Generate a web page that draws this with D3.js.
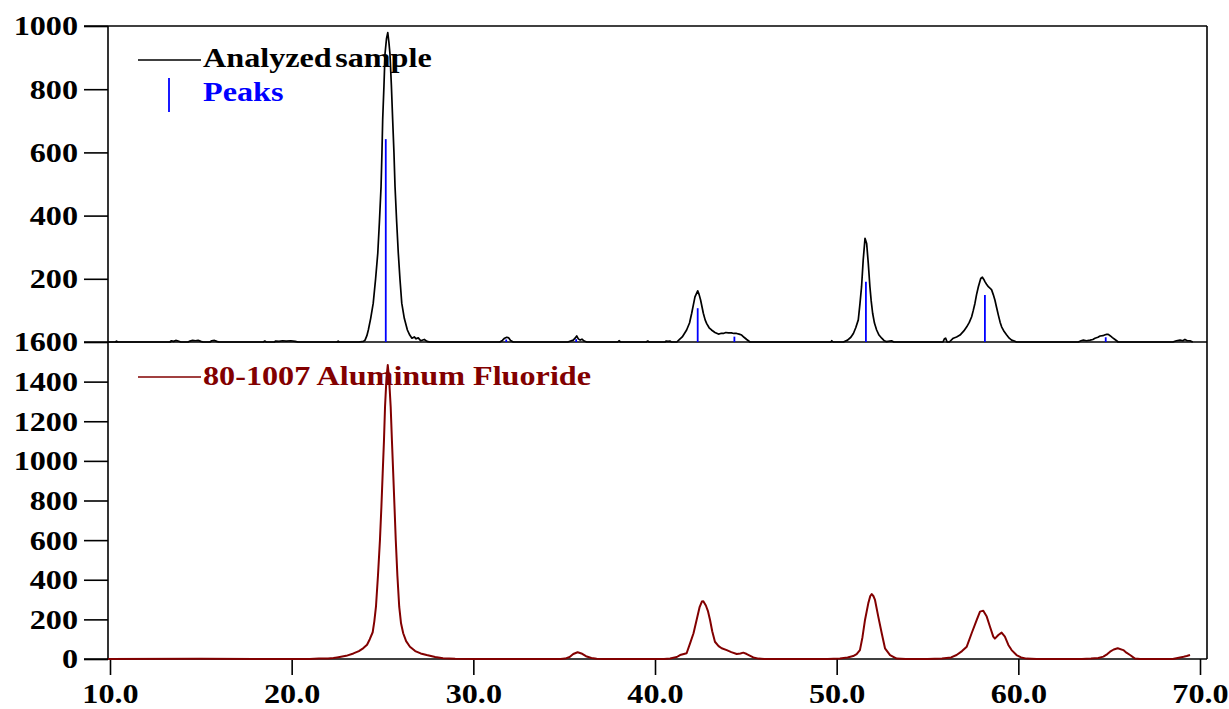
<!DOCTYPE html>
<html>
<head>
<meta charset="utf-8">
<script src="https://cdn.jsdelivr.net/npm/d3@7"></script>
<style>
  html, body { margin: 0; padding: 0; background: #fff; }
  svg { display: block; }
  text { font-family: "Liberation Serif", "Times New Roman", serif; font-weight: bold; font-size: 28px; }
</style>
</head>
<body>
<svg id="chart" width="1229" height="709"></svg>
<script>
// ---- Data -------------------------------------------------------------
// Measured diffraction scan: [2-theta (deg), counts]
const sampleScan = [
  [9.9,0],[10.3,0],[10.36,3],[10.42,0],[13.3,0],[13.38,4],[13.5,2],[13.62,5],[13.75,3],[13.9,0],
  [14.3,0],[14.4,3],[14.55,5],[14.7,4],[14.85,5],[15.0,2],[15.12,0],[15.5,0],[15.6,4],[15.75,5],
  [15.88,2],[16.0,0],[18.45,0],[18.52,3],[18.6,0],[19.05,0],[19.12,3],[19.3,2],[19.5,4],[19.7,3],
  [19.95,4],[20.2,2],[20.35,0],[22.5,0],[22.56,3],[22.62,0],[23.7,0],[23.95,2],
  [24.04,6],[24.14,20],[24.22,38],[24.35,75],[24.49,123],[24.62,200],[24.74,281],[24.83,380],
  [24.92,491],[24.97,600],[25.01,703],[25.08,810],[25.14,913],[25.22,960],[25.29,979],[25.35,950],
  [25.41,913],[25.49,810],[25.56,703],[25.63,600],[25.69,491],[25.78,380],[25.87,281],[25.96,200],
  [26.06,123],[26.2,75],[26.37,38],[26.5,22],[26.62,12],[26.75,16],[26.85,10],[26.97,13],[27.1,4],
  [27.3,8],[27.45,2],[27.6,0],
  [31.45,0],[31.6,5],[31.72,12],[31.84,15],[31.95,13],[32.05,5],[32.2,0],
  [35.2,0],[35.35,3],[35.5,6],[35.6,12],[35.69,19],[35.78,10],[35.88,6],[35.98,9],[36.1,3],[36.25,0],
  [37.95,0],[38.02,4],[38.1,0],[39.52,0],[39.6,3],[39.68,0],[40.55,0],[40.62,3],[40.72,2],[40.82,3],[40.9,0],
  [41.2,0],[41.35,8],[41.5,16],[41.74,38],[41.9,60],[42.02,91],[42.12,120],[42.2,143],[42.35,162],
  [42.43,150],[42.51,133],[42.66,91],[42.76,70],[42.84,59],[42.98,45],[43.11,38],[43.3,30],[43.49,25],
  [43.62,27],[43.76,27],[43.9,30],[44.03,29],[44.2,29],[44.35,27],[44.49,27],[44.63,25],[44.77,22],
  [44.9,15],[45.05,8],[45.23,0],
  [49.68,0],[49.73,4],[49.8,0],[50.37,0],[50.6,6],[50.78,15],[50.92,27],[51.05,45],[51.19,70],
  [51.28,120],[51.37,175],[51.46,259],[51.56,328],[51.65,312],[51.74,249],[51.83,175],[51.9,130],
  [51.98,91],[52.08,60],[52.2,38],[52.33,22],[52.48,12],[52.6,5],[52.75,1],[53.02,4],[53.15,0],
  [55.85,0],[55.93,10],[56.0,12],[56.08,0],[56.2,0],[56.42,12],[56.6,16],[56.79,22],[57.0,35],
  [57.16,48],[57.3,62],[57.43,80],[57.52,100],[57.61,122],[57.7,150],[57.8,175],[57.93,201],[58.02,205],
  [58.1,198],[58.16,191],[58.25,183],[58.35,175],[58.45,170],[58.53,165],[58.62,150],[58.71,133],
  [58.8,110],[58.9,85],[59.0,62],[59.08,48],[59.22,33],[59.36,22],[59.5,12],[59.63,6],[59.78,3],[59.9,0],
  [63.3,0],[63.45,4],[63.58,6],[63.75,4],[63.95,6],[64.1,8],[64.22,12],[64.38,15],[64.5,19],[64.65,20],
  [64.78,23],[64.86,24],[64.95,24],[65.05,20],[65.18,14],[65.32,8],[65.5,0],
  [68.5,0],[68.7,4],[68.9,6],[69.05,4],[69.17,8],[69.3,4],[69.45,4],[69.6,0]
];

// Identified peak positions: [2-theta (deg), counts]
const peakPositions = [
  [25.18,642],[31.81,8],[35.66,9],[42.35,107],[44.37,17],[51.61,191],[58.16,149],[64.81,15]
];

// Reference pattern 80-1007 Aluminum Fluoride: [2-theta (deg), counts]
const referencePattern = [
  [9.9,0],[15.0,1],[18.0,0],[21.0,0],[21.5,2],[22.0,3],[22.3,5],[22.5,8],[23.0,16],[23.4,28],[23.7,40],
  [23.95,55],[24.15,72],[24.3,100],[24.46,135],[24.55,190],[24.64,264],[24.75,420],[24.86,601],
  [24.94,770],[25.01,937],[25.08,1100],[25.14,1274],[25.22,1420],[25.29,1484],[25.36,1420],[25.45,1274],
  [25.52,1100],[25.59,937],[25.66,770],[25.73,601],[25.82,420],[25.92,264],[26.02,180],[26.14,130],
  [26.3,90],[26.51,62],[26.8,40],[27.1,28],[27.43,20],[27.9,10],[28.33,4],[29.0,1],[30.0,0],
  [34.8,0],[35.05,2],[35.3,10],[35.5,25],[35.74,34],[35.95,28],[36.2,14],[36.5,5],[36.79,1],[37.2,0],
  [40.5,0],[40.83,3],[41.2,10],[41.38,20],[41.74,29],[41.93,79],[42.12,130],[42.29,197],[42.45,260],
  [42.58,290],[42.66,292],[42.8,270],[42.92,240],[43.03,197],[43.15,140],[43.3,87],[43.5,65],
  [43.67,54],[43.95,45],[44.2,35],[44.5,25],[44.7,28],[44.86,32],[45.05,25],[45.41,8],[45.7,2],[46.0,0],
  [49.5,0],[50.18,2],[50.6,8],[50.91,15],[51.1,25],[51.28,45],[51.42,110],[51.56,197],[51.74,281],
  [51.85,318],[51.93,328],[52.02,318],[52.11,298],[52.29,214],[52.48,130],[52.66,54],[52.94,20],
  [53.3,2],[53.8,0],
  [55.0,0],[55.8,2],[56.3,8],[56.6,20],[56.9,40],[57.16,62],[57.43,130],[57.71,197],[57.89,239],
  [58.07,244],[58.26,214],[58.44,163],[58.62,113],[58.71,103],[58.9,121],[59.08,133],[59.26,113],
  [59.45,71],[59.63,45],[59.9,20],[60.15,8],[60.45,2],[61.0,0],
  [63.5,0],[64.0,2],[64.4,5],[64.68,12],[64.9,25],[65.05,37],[65.25,48],[65.47,54],[65.78,45],
  [65.95,32],[66.15,20],[66.42,2],[66.7,0],[68.5,0],[68.9,8],[69.1,11],[69.27,15],[69.45,20]
];

// Axis ticks and legend entries
const xTicks = [10, 20, 30, 40, 50, 60, 70];
const upperTicks = [200, 400, 600, 800, 1000];
const lowerTicks = [0, 200, 400, 600, 800, 1000, 1200, 1400, 1600];
const legendUpper = ["Analyzed sample", "Peaks"];
const legendLower = ["80-1007 Aluminum Fluoride"];

// ---- Layout -----------------------------------------------------------
const plotLeft = 108, plotRight = 1207;
const topY = 26, midY = 342, bottomY = 659;
const tickLen = 24;
const stretch = 1.15;           // horizontal stretch of the bold serif labels
const sampleColor = "#000000";
const peakColor = "#0000ff";
const refColor = "#820000";

const svg = d3.select("#chart");

const x = d3.scaleLinear().domain([9.89, 70.385]).range([plotLeft, plotRight]);
const yUpper = d3.scaleLinear().domain([0, 1000]).range([midY, topY]);
const yLower = d3.scaleLinear().domain([0, 1600]).range([bottomY, midY]);

// ---- Axes -------------------------------------------------------------
function styleLeftAxis(g) {
  g.select(".domain").remove();
  g.selectAll(".tick line").attr("stroke", "#000").attr("stroke-width", 1.6);
  g.selectAll(".tick text")
    .attr("fill", "#000")
    .attr("x", -(tickLen + 6) / stretch)
    .attr("transform", `scale(${stretch},1)`);
}

svg.append("g")
  .attr("transform", `translate(${plotLeft},0)`)
  .call(d3.axisLeft(yUpper).tickValues(upperTicks).tickSize(tickLen).tickFormat(d3.format("d")))
  .call(styleLeftAxis);

svg.append("g")
  .attr("transform", `translate(${plotLeft},0)`)
  .call(d3.axisLeft(yLower).tickValues(lowerTicks).tickSize(tickLen).tickFormat(d3.format("d")))
  .call(styleLeftAxis);

const xAxis = svg.append("g")
  .attr("transform", `translate(0,${bottomY})`)
  .call(d3.axisBottom(x).tickValues(xTicks).tickSize(16).tickFormat(d3.format(".1f")));
xAxis.select(".domain").remove();
xAxis.selectAll(".tick line").attr("stroke", "#000").attr("stroke-width", 1.6);
xAxis.selectAll(".tick text")
  .attr("fill", "#000")
  .attr("y", 44).attr("dy", 0)
  .attr("transform", `scale(${stretch},1)`);

// Frame: top border, panel separator, bottom axis, left and right borders
const frame = svg.append("g").attr("stroke", "#000").attr("stroke-width", 1.6).attr("fill", "none");
frame.append("line").attr("x1", plotLeft - tickLen).attr("x2", plotRight).attr("y1", topY).attr("y2", topY);
frame.append("line").attr("x1", plotLeft - tickLen).attr("x2", plotRight).attr("y1", midY).attr("y2", midY);
frame.append("line").attr("x1", plotLeft - tickLen).attr("x2", plotRight).attr("y1", bottomY).attr("y2", bottomY);
frame.append("line").attr("x1", plotLeft).attr("x2", plotLeft).attr("y1", topY).attr("y2", bottomY);
frame.append("line").attr("x1", plotRight).attr("x2", plotRight).attr("y1", topY).attr("y2", bottomY);

// ---- Series -----------------------------------------------------------
const upperLine = d3.line().x(d => x(d[0])).y(d => yUpper(d[1]));
const lowerLine = d3.line().x(d => x(d[0])).y(d => yLower(d[1]));

svg.append("path")
  .datum(referencePattern)
  .attr("d", lowerLine)
  .attr("fill", "none")
  .attr("stroke", refColor)
  .attr("stroke-width", 2)
  .attr("stroke-linejoin", "round");

svg.append("path")
  .datum(sampleScan)
  .attr("d", upperLine)
  .attr("fill", "none")
  .attr("stroke", sampleColor)
  .attr("stroke-width", 1.7)
  .attr("stroke-linejoin", "round");

svg.append("g")
  .selectAll("line")
  .data(peakPositions)
  .join("line")
  .attr("x1", d => x(d[0])).attr("x2", d => x(d[0]))
  .attr("y1", yUpper(0)).attr("y2", d => yUpper(d[1]))
  .attr("stroke", peakColor)
  .attr("stroke-width", 1.8);

// ---- Legends ----------------------------------------------------------
function legendText(label, tx, ty, color, wordSpacing) {
  svg.append("text")
    .attr("transform", `translate(${tx},${ty}) scale(${stretch},1)`)
    .attr("fill", color)
    .style("word-spacing", wordSpacing)
    .text(label);
}

svg.append("line").attr("x1", 138).attr("x2", 201).attr("y1", 60).attr("y2", 60)
  .attr("stroke", sampleColor).attr("stroke-width", 1.6);
legendText(legendUpper[0], 203, 67, sampleColor, "-4px");

svg.append("line").attr("x1", 169).attr("x2", 169).attr("y1", 78).attr("y2", 112)
  .attr("stroke", peakColor).attr("stroke-width", 1.8);
legendText(legendUpper[1], 203, 101, peakColor, "0px");

svg.append("line").attr("x1", 138).attr("x2", 201).attr("y1", 377).attr("y2", 377)
  .attr("stroke", refColor).attr("stroke-width", 1.6);
legendText(legendLower[0], 203, 385, refColor, "0px");
</script>
</body>
</html>
